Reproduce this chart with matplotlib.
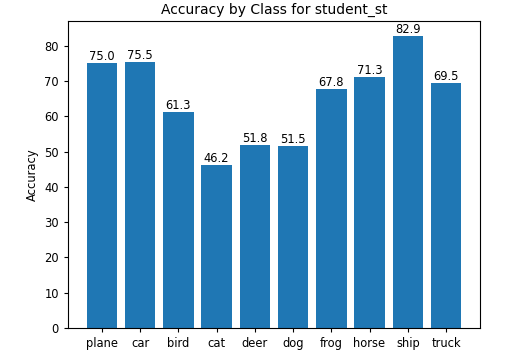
import matplotlib
matplotlib.use("Agg")
import matplotlib.pyplot as plt

# Per-class accuracy values
classes = ["plane", "car", "bird", "cat", "deer", "dog", "frog", "horse", "ship", "truck"]
accuracy = [75.0, 75.5, 61.3, 46.2, 51.8, 51.5, 67.8, 71.3, 82.9, 69.5]
model_name = "student_st"

fig, ax = plt.subplots(figsize=(5.14, 3.62), dpi=100)
fig.subplots_adjust(left=0.132, right=0.934, top=0.942, bottom=0.094)

bars = ax.bar(classes, accuracy, color="#1f77b4")
ax.bar_label(bars, labels=[f"{v:.1f}" for v in accuracy], fontsize=8.3, padding=0)

ax.set_title(f"Accuracy by Class for {model_name}", fontsize=10, pad=5)
ax.set_ylabel("Accuracy", fontsize=8.3)
ax.tick_params(axis="both", labelsize=8.3, length=3)

fig.savefig("out.png", dpi=100)
